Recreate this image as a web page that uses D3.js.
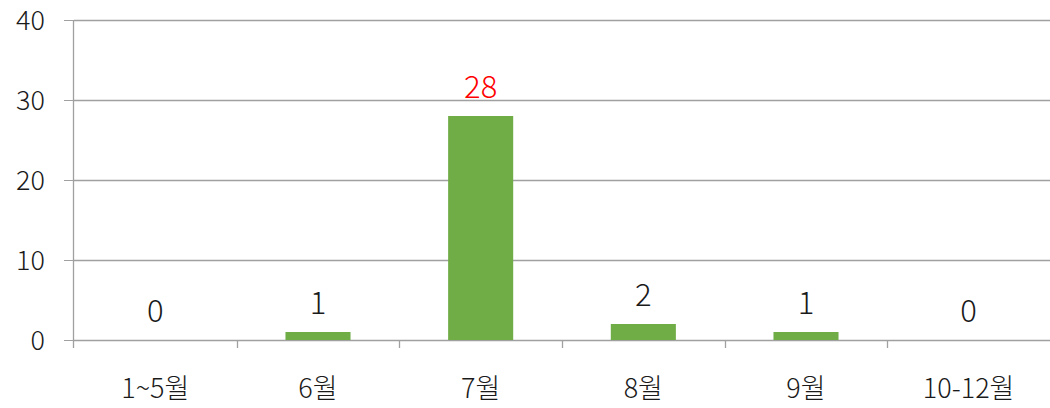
<!DOCTYPE html>
<html>
<head>
<meta charset="utf-8">
<script src="https://cdn.jsdelivr.net/npm/d3@7"></script>
<style>
  html, body { margin: 0; padding: 0; background: #fff; }
  svg text { font-family: "Noto Sans CJK KR", "Noto Sans", sans-serif; font-weight: 300; }
</style>
</head>
<body>
<div id="chart"></div>
<script>
// --- Data ---
const categories = ["1~5월", "6월", "7월", "8월", "9월", "10-12월"];
const values = [0, 1, 28, 2, 1, 0];
const yTicks = [0, 10, 20, 30, 40];
const highlight = [false, false, true, false, false, false];

// --- Layout ---
const width = 1050, height = 408;
const margin = { top: 20, right: 0, bottom: 68, left: 74 };

const svg = d3.select("#chart").append("svg")
    .attr("width", width)
    .attr("height", height);

const x = d3.scaleBand()
    .domain(categories)
    .range([margin.left, width - margin.right])
    .paddingInner(0.6)
    .paddingOuter(0.3);

const xOuter = d3.scaleBand()
    .domain(categories)
    .range([margin.left, width - margin.right]);

const y = d3.scaleLinear()
    .domain([0, 40])
    .range([height - margin.bottom, margin.top]);

// --- Gridlines + y axis ---
const yAxis = svg.append("g")
    .attr("transform", `translate(${margin.left - 1},0)`)
    .call(d3.axisLeft(y).tickValues(yTicks).tickSize(9).tickPadding(19));
yAxis.select(".domain").attr("stroke", "#a0a0a0").attr("stroke-width", 1.3)
    .attr("d", `M0.5,${y(40)}V${y(0) + 8}`);
yAxis.selectAll(".tick line").attr("stroke", "#a0a0a0");
yAxis.selectAll(".tick text").attr("font-size", 27).attr("fill", "#1a1a1a")
    .attr("dy", "0.36em");

svg.append("g").selectAll("line")
    .data(yTicks)
    .enter()
    .append("line")
    .attr("x1", margin.left)
    .attr("x2", width)
    .attr("y1", d => Math.round(y(d)) + 0.5)
    .attr("y2", d => Math.round(y(d)) + 0.5)
    .attr("stroke", "#a0a0a0")
    .attr("stroke-width", 1.3);

// --- x axis ticks (category boundaries) ---
svg.append("g").selectAll("line")
    .data(categories.slice(1))
    .enter()
    .append("line")
    .attr("x1", d => Math.round(xOuter(d)) + 0.5)
    .attr("x2", d => Math.round(xOuter(d)) + 0.5)
    .attr("y1", y(0))
    .attr("y2", y(0) + 8)
    .attr("stroke", "#a0a0a0")
    .attr("stroke-width", 1.3);

svg.append("g").selectAll("text")
    .data(categories)
    .enter()
    .append("text")
    .attr("x", d => xOuter(d) + xOuter.bandwidth() / 2)
    .attr("y", 398)
    .attr("text-anchor", "middle")
    .attr("font-size", 27)
    .attr("fill", "#1a1a1a")
    .text(d => d);

// --- Bars ---
svg.append("g").selectAll("rect")
    .data(values)
    .enter()
    .append("rect")
    .attr("x", (d, i) => x(categories[i]))
    .attr("width", x.bandwidth())
    .attr("y", d => y(d))
    .attr("height", d => y(0) - y(d))
    .attr("fill", "#70ad47");

// --- Value labels ---
svg.append("g").selectAll("text")
    .data(values)
    .enter()
    .append("text")
    .attr("x", (d, i) => x(categories[i]) + x.bandwidth() / 2)
    .attr("y", d => y(d) - 18)
    .attr("text-anchor", "middle")
    .attr("font-size", 31)
    .attr("fill", (d, i) => highlight[i] ? "#ff0000" : "#1a1a1a")
    .text(d => d);
</script>
</body>
</html>
